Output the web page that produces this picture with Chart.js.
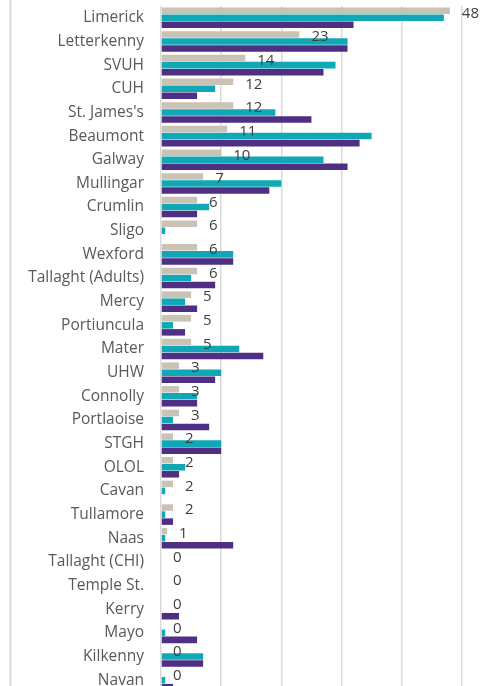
<!DOCTYPE html>
<html>
<head>
<meta charset="utf-8">
<script src="https://cdn.jsdelivr.net/npm/chart.js@4/dist/chart.umd.min.js"></script>
<style>
  html, body { margin:0; padding:0; background:#fff; overflow:hidden; }
  #wrap { position:absolute; left:0; top:0; width:498px; height:692px; }
</style>
</head>
<body>
<div id="wrap"><canvas id="chart"></canvas></div>
<script>
const hospitals = ["Limerick", "Letterkenny", "SVUH", "CUH", "St. James's", "Beaumont", "Galway", "Mullingar",
  "Crumlin", "Sligo", "Wexford", "Tallaght (Adults)", "Mercy", "Portiuncula", "Mater", "UHW", "Connolly",
  "Portlaoise", "STGH", "OLOL", "Cavan", "Tullamore", "Naas", "Tallaght (CHI)", "Temple St.", "Kerry",
  "Mayo", "Kilkenny", "Navan"];
const greyValues = [48, 23, 14, 12, 12, 11, 10, 7, 6, 6, 6, 6, 5, 5, 5, 3, 3, 3, 2, 2, 2, 2, 1, 0, 0, 0, 0, 0, 0];
const tealValues = [47, 31, 29, 9, 19, 35, 27, 20, 8, 0.7, 12, 5, 4, 2, 13, 10, 6, 2, 10, 4, 0.7, 0.7, 0.7, 0, 0, 0, 0.7, 7, 0.7];
const purpleValues = [32, 31, 27, 6, 25, 33, 31, 18, 6, 0, 12, 9, 6, 4, 17, 9, 6, 8, 10, 3, 0, 2, 12, 0, 0, 3, 6, 7, 2];
const gridTicks = [0, 10, 20, 30, 40, 50];

const FONT = "'Open Sans', sans-serif";

// left frame line + grey value labels
const extras = {
  id: "extras",
  beforeDraw(chart) {
    const ctx = chart.ctx;
    ctx.save();
    ctx.fillStyle = "#d9d9d9";
    ctx.fillRect(9.5, 0, 2, chart.height);
    ctx.restore();
  },
  afterDatasetsDraw(chart) {
    const ctx = chart.ctx;
    const meta = chart.getDatasetMeta(0);
    ctx.save();
    ctx.font = "15px " + FONT;
    ctx.fillStyle = "#404040";
    ctx.textAlign = "left";
    ctx.textBaseline = "middle";
    meta.data.forEach((bar, i) => {
      ctx.fillText(String(greyValues[i]), bar.x + 12, bar.y + 2.5);
    });
    ctx.restore();
  }
};

new Chart(document.getElementById("chart"), {
  type: "bar",
  data: {
    labels: hospitals,
    datasets: [
      { data: greyValues, backgroundColor: "#cbc2b6", categoryPercentage: 0.89, barPercentage: 0.93 },
      { data: tealValues, backgroundColor: "#10a8b6", categoryPercentage: 0.89, barPercentage: 0.93 },
      { data: purpleValues, backgroundColor: "#4e2f83", categoryPercentage: 0.89, barPercentage: 0.93 }
    ]
  },
  options: {
    indexAxis: "y",
    responsive: true,
    maintainAspectRatio: false,
    animation: false,
    layout: { padding: { top: 6, left: 0, right: 0, bottom: 0 } },
    plugins: { legend: { display: false }, tooltip: { enabled: false } },
    scales: {
      x: {
        min: 0,
        max: 56,
        afterBuildTicks: (scale) => { scale.ticks = gridTicks.map(v => ({ value: v })); },
        afterFit: (scale) => { scale.height = 0; scale.paddingLeft = 0; scale.paddingRight = 0; },
        ticks: { display: false },
        grid: { color: "#dadada", lineWidth: 1.5, drawTicks: false },
        border: { display: false }
      },
      y: {
        afterFit: (scale) => { scale.width = 161; scale.paddingTop = 0; scale.paddingBottom = 0; },
        ticks: { color: "#595959", font: { family: FONT, size: 15.5 }, padding: 17, autoSkip: false },
        grid: { display: false, drawTicks: false },
        border: { display: false }
      }
    }
  },
  plugins: [extras]
});
</script>
</body>
</html>
